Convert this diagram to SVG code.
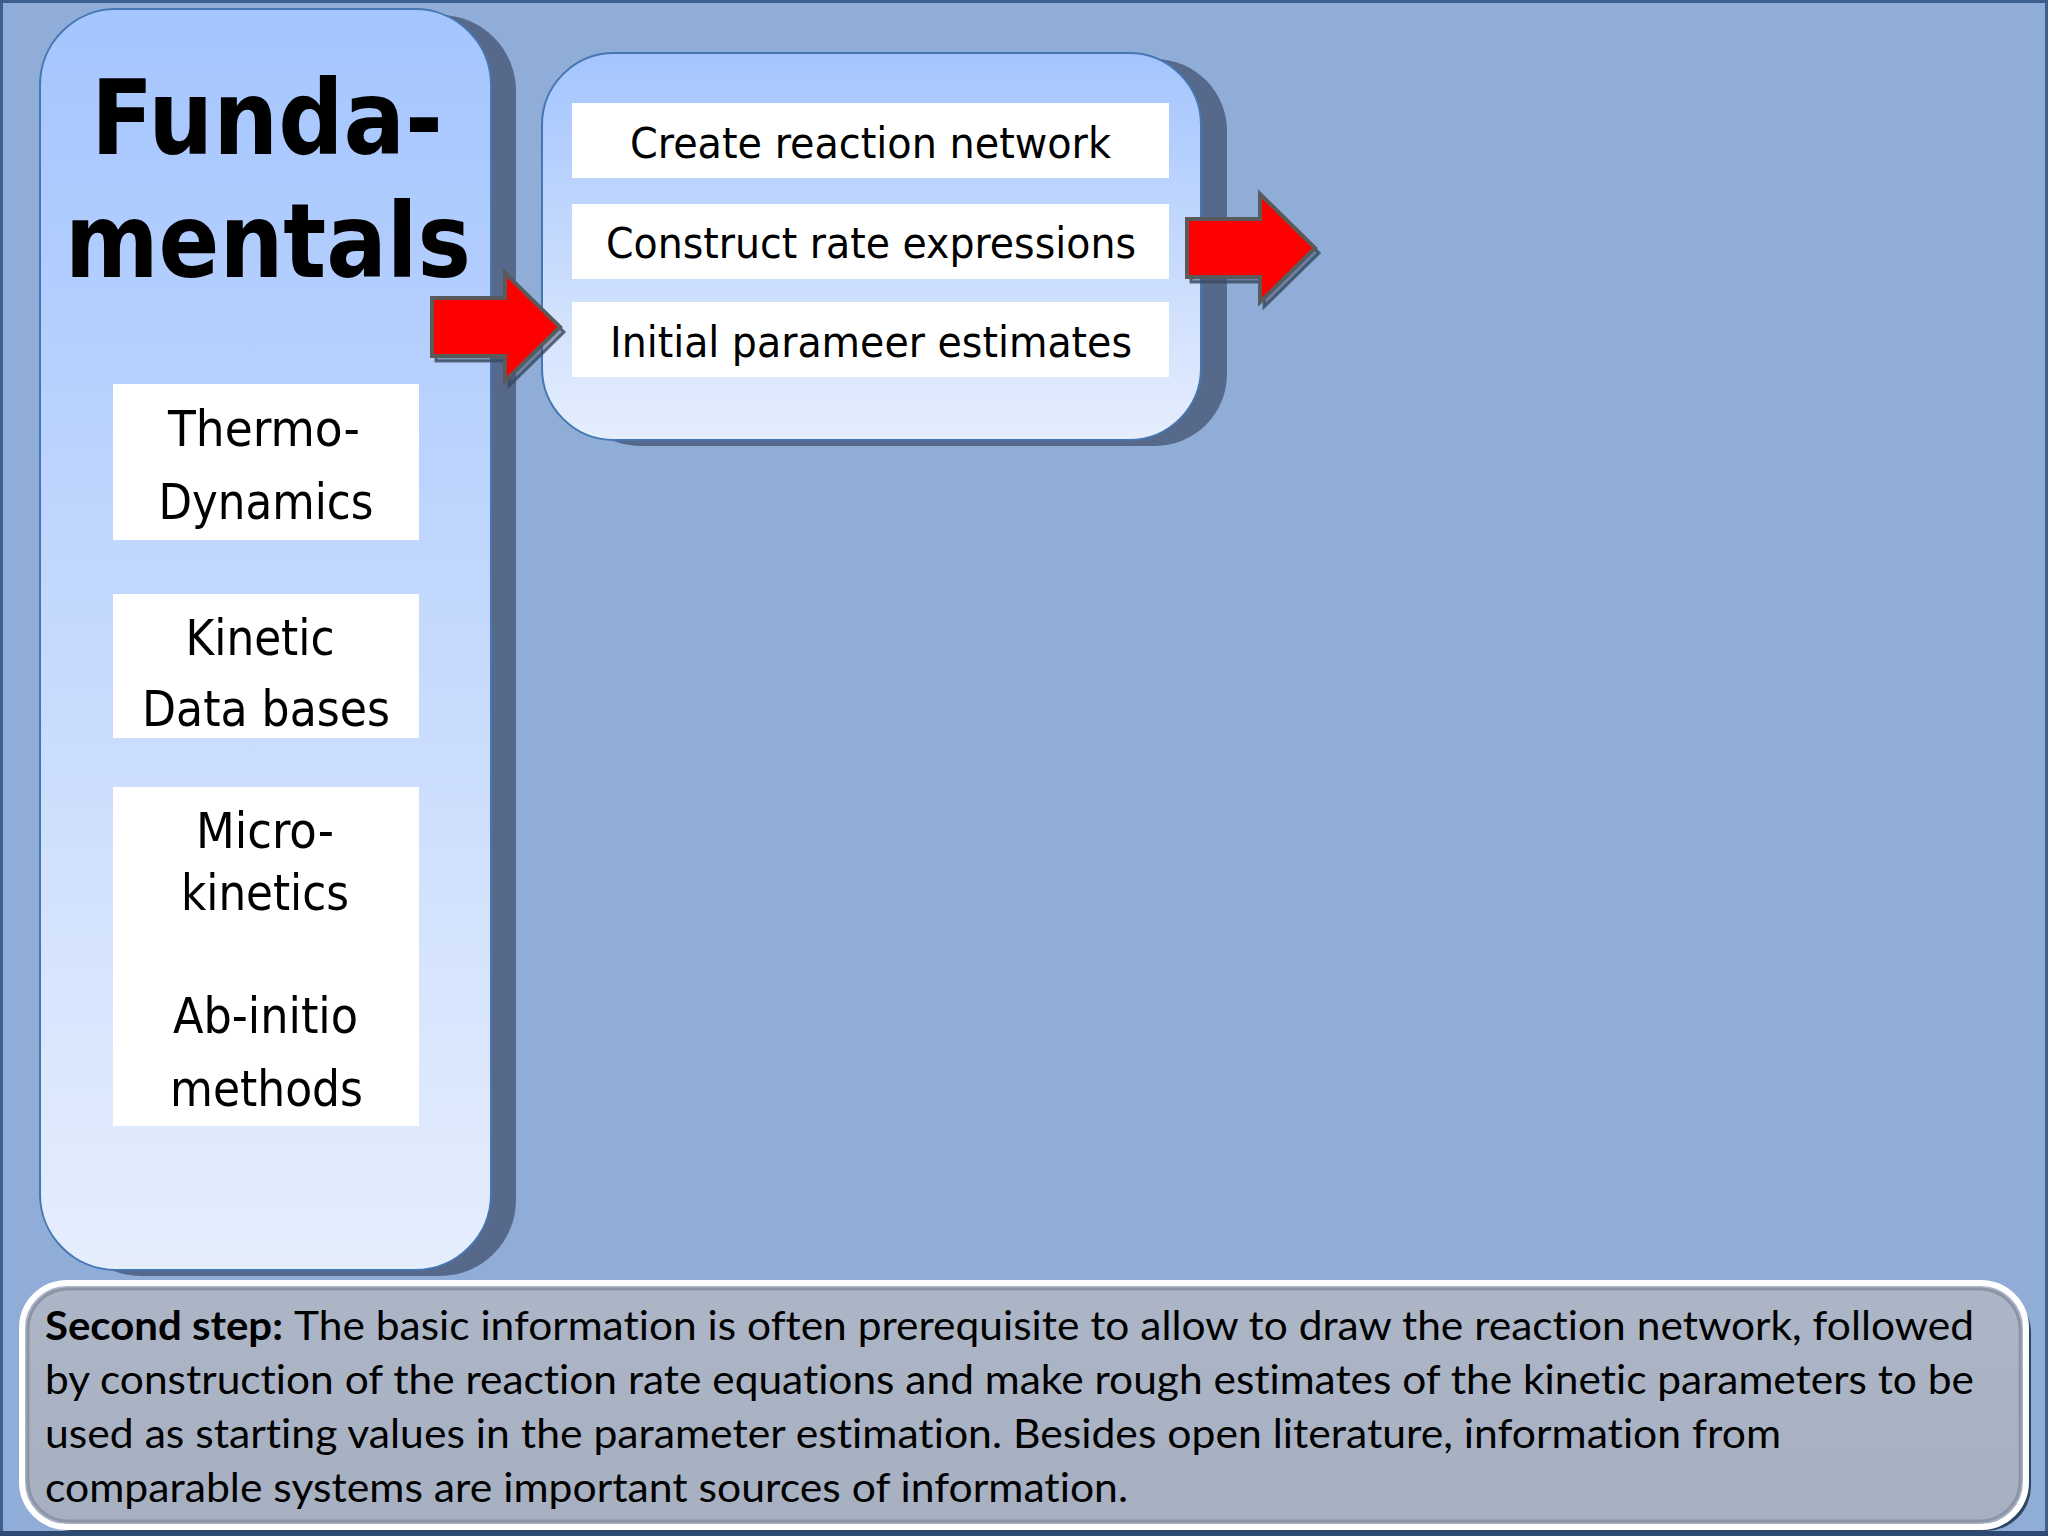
<svg xmlns="http://www.w3.org/2000/svg" width="2048" height="1536" viewBox="0 0 2048 1536">
  <defs>
    <linearGradient id="panelGrad" x1="0" y1="0" x2="0" y2="1">
      <stop offset="0" stop-color="#A4C5FE"/>
      <stop offset="1" stop-color="#E6EEFD"/>
    </linearGradient>
    <linearGradient id="noteGrad" x1="0" y1="0" x2="0" y2="1">
      <stop offset="0" stop-color="#ACB6C6"/>
      <stop offset="1" stop-color="#A6B0C1"/>
    </linearGradient>
    <path id="arrowShape" d="M0,-29 L73,-29 L73,-54 L128,0 L73,54 L73,29 L0,29 Z"/>
  </defs>
  <style>
    .panel { fill: url(#panelGrad); stroke: #4677B4; stroke-width: 2; }
    .pshadow { fill: #56698A; }
    .wbox { fill: #FFFFFF; }
    .title { font-family: "DejaVu Sans Condensed", "DejaVu Sans", sans-serif; font-weight: bold; font-size: 103px; fill: #000; text-anchor: middle; }
    .lbl { font-family: "DejaVu Sans Condensed", "DejaVu Sans", sans-serif; font-size: 50px; fill: #000; text-anchor: middle; }
    .mlbl { font-family: "DejaVu Sans Condensed", "DejaVu Sans", sans-serif; font-size: 43px; fill: #000; text-anchor: middle; }
    .note { font-family: Lato, "Open Sans", "Liberation Sans", sans-serif; font-size: 40px; fill: #000; font-variant-ligatures: none; }
    .noteb { font-family: Lato, "Open Sans", "Liberation Sans", sans-serif; font-size: 40px; font-weight: bold; fill: #000; }
    .arrow { fill: #FF0000; stroke: #5A5A5A; stroke-width: 4; stroke-linejoin: miter; }
    .ashadow { fill: #3A4A66; fill-opacity: 0.45; stroke: #3A4A60; stroke-width: 3; stroke-opacity: 0.8; }
  </style>

  <!-- slide background -->
  <rect x="1.5" y="1.5" width="2045" height="1532" fill="#8FADD6" stroke="#3B5E8C" stroke-width="3"/>
  <rect x="0" y="1531" width="2048" height="5" fill="#2E4A70"/>

  <!-- Fundamentals panel -->
  <g id="fundamentals">
    <rect class="pshadow" x="65" y="15" width="451" height="1261" rx="76" ry="76"/>
    <rect class="panel" x="40" y="9" width="451" height="1261" rx="76" ry="76"/>
    <text class="title" x="267" y="154" textLength="352" lengthAdjust="spacingAndGlyphs">Funda-</text>
    <text class="title" x="268" y="277" textLength="406" lengthAdjust="spacingAndGlyphs">mentals</text>
  </g>

  <g id="thermo">
    <rect class="wbox" x="113" y="384" width="306" height="156"/>
    <text class="lbl" x="264" y="446" textLength="192" lengthAdjust="spacingAndGlyphs">Thermo-</text>
    <text class="lbl" x="266" y="519" textLength="215" lengthAdjust="spacingAndGlyphs">Dynamics</text>
  </g>

  <g id="kinetic">
    <rect class="wbox" x="113" y="594" width="306" height="144"/>
    <text class="lbl" x="260" y="655" textLength="149" lengthAdjust="spacingAndGlyphs">Kinetic</text>
    <text class="lbl" x="266" y="726" textLength="248" lengthAdjust="spacingAndGlyphs">Data bases</text>
  </g>

  <g id="micro">
    <rect class="wbox" x="113" y="787" width="306" height="339"/>
    <text class="lbl" x="265" y="848" textLength="138" lengthAdjust="spacingAndGlyphs">Micro-</text>
    <text class="lbl" x="265" y="910" textLength="168" lengthAdjust="spacingAndGlyphs">kinetics</text>
    <text class="lbl" x="265.5" y="1033" textLength="185" lengthAdjust="spacingAndGlyphs">Ab-initio</text>
    <text class="lbl" x="266.5" y="1106" textLength="193" lengthAdjust="spacingAndGlyphs">methods</text>
  </g>

  <!-- Second step panel -->
  <g id="step2">
    <rect class="pshadow" x="568" y="59" width="659" height="387" rx="72" ry="72"/>
    <rect class="panel" x="542" y="53" width="659" height="387" rx="72" ry="72"/>
  </g>

  <g id="create-network">
    <rect class="wbox" x="572" y="103" width="597" height="75"/>
    <text class="mlbl" x="870.5" y="158" textLength="481" lengthAdjust="spacingAndGlyphs">Create reaction network</text>
  </g>

  <g id="rate-expressions">
    <rect class="wbox" x="572" y="204" width="597" height="75"/>
    <text class="mlbl" x="871" y="258" textLength="530" lengthAdjust="spacingAndGlyphs">Construct rate expressions</text>
  </g>

  <g id="initial-estimates">
    <rect class="wbox" x="572" y="302" width="597" height="75"/>
    <text class="mlbl" x="871" y="357" textLength="522" lengthAdjust="spacingAndGlyphs">Initial parameer estimates</text>
  </g>

  <!-- connectors -->
  <g id="connectors">
    <g transform="translate(432,327)">
      <use href="#arrowShape" class="ashadow" transform="translate(4,5)"/>
      <use href="#arrowShape" class="arrow"/>
    </g>
    <g transform="translate(1187,248)">
      <use href="#arrowShape" class="ashadow" transform="translate(4,5)"/>
      <use href="#arrowShape" class="arrow"/>
    </g>
  </g>

  <!-- note box -->
  <g id="note">
    <rect x="27" y="1288" width="2004" height="243" rx="45" ry="45" fill="#1F3350" fill-opacity="0.85"/>
    <rect x="22" y="1283" width="2004" height="244" rx="45" ry="45" fill="url(#noteGrad)" stroke="#FFFFFF" stroke-width="6"/>
    <rect x="28" y="1289" width="1992" height="232" rx="40" ry="40" fill="none" stroke="#8B95A6" stroke-width="3"/>
    <text class="noteb" x="45" y="1340" textLength="238" lengthAdjust="spacingAndGlyphs">Second step:</text>
    <text class="note" x="294" y="1340" textLength="1680" lengthAdjust="spacingAndGlyphs">The basic information is often prerequisite to allow to draw the reaction network, followed</text>
    <text class="note" x="45" y="1394" textLength="1929" lengthAdjust="spacingAndGlyphs">by construction of the reaction rate equations and make rough estimates of the kinetic parameters to be</text>
    <text class="note" x="45" y="1448" textLength="1736" lengthAdjust="spacingAndGlyphs">used as starting values in the parameter estimation. Besides open literature, information from</text>
    <text class="note" x="45" y="1502" textLength="1083" lengthAdjust="spacingAndGlyphs">comparable systems are important sources of information.</text>
  </g>
</svg>
